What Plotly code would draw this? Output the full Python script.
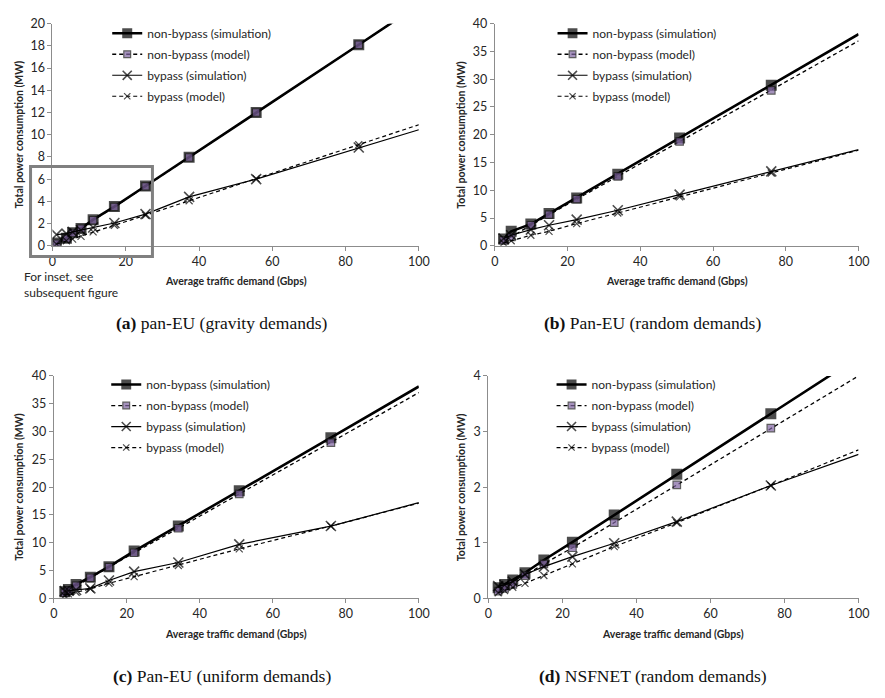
import plotly.graph_objects as go

# ---------------- data ----------------
series_names = ["non-bypass (simulation)", "non-bypass (model)",
                "bypass (simulation)", "bypass (model)"]

# (a) pan-EU (gravity demands)  -- last point is where the drawn line ends
a_x      = [1.1, 3.8, 5.5, 7.8, 11.1, 16.9, 25.4, 37.3, 55.6, 83.6, 100]
a_nb_sim = [0.25, 0.68, 1.18, 1.56, 2.35, 3.53, 5.38, 7.97, 12.0, 18.1, 21.7]
a_nb_mod = [0.2, 0.65, 1.15, 1.55, 2.3, 3.5, 5.35, 7.95, 12.0, 18.1, 21.7]
a_by_sim = [1.0, 1.1, 1.25, 1.4, 1.65, 2.05, 2.85, 4.4, 6.0, 8.85, 10.45]
a_by_mod = [0.15, 0.45, 0.6, 0.85, 1.25, 1.85, 2.75, 4.05, 6.05, 9.1, 10.9]

# (b) Pan-EU (random demands)
b_x      = [2.4, 4.5, 9.9, 14.9, 22.5, 33.8, 50.8, 76.0, 100]
b_nb_sim = [1.2, 2.6, 3.9, 5.8, 8.6, 12.9, 19.4, 28.9, 38.1]
b_nb_mod = [1.0, 1.6, 3.7, 5.6, 8.4, 12.5, 18.8, 28.0, 36.9]
b_by_sim = [1.3, 1.9, 2.9, 3.7, 4.7, 6.4, 9.2, 13.4, 17.3]
b_by_mod = [0.5, 0.9, 1.9, 2.6, 4.0, 5.9, 8.8, 13.1, 17.2]

# (c) Pan-EU (uniform demands)
c_x      = [3.0, 4.0, 6.1, 10.0, 15.1, 22.0, 34.1, 50.8, 75.9, 100]
c_nb_sim = [1.2, 1.6, 2.5, 3.8, 5.7, 8.5, 13.0, 19.35, 28.9, 38.1]
c_nb_mod = [1.0, 1.4, 2.3, 3.7, 5.6, 8.2, 12.6, 18.8, 28.0, 37.0]
c_by_sim = [1.3, 1.4, 1.5, 1.8, 3.2, 4.8, 6.45, 9.7, 13.0, 17.2]
c_by_mod = [0.5, 0.8, 1.1, 1.7, 2.7, 3.9, 5.9, 8.9, 13.0, 17.1]

# (d) NSFNET (random demands)
d_x      = [2.65, 4.4, 6.6, 9.9, 15.0, 22.7, 34.0, 50.9, 76.3, 100]
d_nb_sim = [0.19, 0.25, 0.33, 0.46, 0.69, 1.01, 1.50, 2.23, 3.32, 4.34]
d_nb_mod = [0.13, 0.18, 0.25, 0.41, 0.62, 0.91, 1.36, 2.04, 3.06, 4.0]
d_by_sim = [0.22, 0.24, 0.3, 0.43, 0.57, 0.75, 0.99, 1.38, 2.03, 2.59]
d_by_mod = [0.1, 0.14, 0.2, 0.27, 0.41, 0.62, 0.93, 1.36, 2.03, 2.67]

x_ticks = [0, 20, 40, 60, 80, 100]
y_ticks_a = [0, 2, 4, 6, 8, 10, 12, 14, 16, 18, 20]
y_ticks_bc = [0, 5, 10, 15, 20, 25, 30, 35, 40]
y_ticks_d = [0, 1, 2, 3, 4]

captions = [("(a)", "pan-EU (gravity demands)"),
            ("(b)", "Pan-EU (random demands)"),
            ("(c)", "Pan-EU (uniform demands)"),
            ("(d)", "NSFNET (random demands)")]
x_title = "Average traffic demand (Gbps)"
y_title = "Total power consumption (MW)"
inset_note = "For inset, see<br>subsequent figure"

# ---------------- layout helpers ----------------
W, H = 885, 698
def px(x): return x / W
def py(y): return 1 - y / H

PURPLE = "#8064A2"
AXIS = "#8c8c8c"
TXT = "#262626"
FONT = "Lato, 'Open Sans', sans-serif"

panels = [
    dict(x=a_x, ys=[a_nb_sim, a_nb_mod, a_by_sim, a_by_mod], yt=y_ticks_a,
         box=(49.3, 422, 16, 243)),
    dict(x=b_x, ys=[b_nb_sim, b_nb_mod, b_by_sim, b_by_mod], yt=y_ticks_bc,
         box=(499.3, 869.3, 16, 243)),
    dict(x=c_x, ys=[c_nb_sim, c_nb_mod, c_by_sim, c_by_mod], yt=y_ticks_bc,
         box=(50.7, 422, 376, 603.3)),
    dict(x=d_x, ys=[d_nb_sim, d_nb_mod, d_by_sim, d_by_mod], yt=y_ticks_d,
         box=(492.7, 869.3, 376, 603.3)),
]
legend_text_x = [144, 597, 143, 596]
legend_top_y = [33, 33, 392, 392]

styles = [
    dict(line=dict(color="black", width=2.6),
         marker=dict(symbol="square", color="black", size=11,
                     line=dict(color="black", width=0))),
    dict(line=dict(color="black", width=1.3, dash="4px,3px"),
         marker=dict(symbol="square", color=PURPLE, size=7.5,
                     line=dict(color="#1a1a1a", width=1.2))),
    dict(line=dict(color="black", width=1.2),
         marker=dict(symbol="x-thin-open", color="black", size=10,
                     line=dict(color="black", width=1.6))),
    dict(line=dict(color="black", width=1.2, dash="4px,3px"),
         marker=dict(symbol="x-thin-open", color="black", size=7,
                     line=dict(color="black", width=1.2))),
]

fig = go.Figure()
layout = dict(width=W, height=H, margin=dict(l=0, r=0, t=0, b=0),
              paper_bgcolor="white", plot_bgcolor="white",
              font=dict(family=FONT, color=TXT, size=12),
              annotations=[], shapes=[])

for i, p in enumerate(panels):
    n = i + 1
    xa = "x" if n == 1 else f"x{n}"
    ya = "y" if n == 1 else f"y{n}"
    lg = "legend" if n == 1 else f"legend{n}"
    x0, x1, y0, y1 = p["box"]
    for j, (name, yv, st) in enumerate(zip(series_names, p["ys"], styles)):
        base = st["marker"]["size"]
        sizes = [base] * (len(p["x"]) - 1) + [0]
        mk = dict(st["marker"])
        mk["size"] = sizes
        fig.add_trace(go.Scatter(
            x=p["x"], y=yv, name=name, mode="lines+markers",
            line=st["line"], marker=mk, xaxis=xa, yaxis=ya, legend=lg,
            legendgroup=f"p{n}s{j}", showlegend=True))
    axk = "xaxis" if n == 1 else f"xaxis{n}"
    ayk = "yaxis" if n == 1 else f"yaxis{n}"
    layout[axk] = dict(domain=[px(x0), px(x1)], range=[0, 100], tickvals=x_ticks,
                       anchor=ya, showgrid=False, zeroline=False, showline=True,
                       linecolor=AXIS, linewidth=1, ticks="outside", ticklen=4,
                       tickcolor=AXIS, tickfont=dict(size=12.5, color=TXT, family=FONT))
    layout[ayk] = dict(domain=[py(y1), py(y0)], range=[p["yt"][0], p["yt"][-1]],
                       tickvals=p["yt"], anchor=xa, showgrid=False, zeroline=False,
                       showline=True, linecolor=AXIS, linewidth=1, ticks="outside",
                       ticklen=4, tickcolor=AXIS,
                       tickfont=dict(size=12.5, color=TXT, family=FONT))
    layout[lg] = dict(x=px(legend_text_x[i] - 39), y=py(legend_top_y[i] - 22),
                      xanchor="left", yanchor="top", bgcolor="rgba(0,0,0,0)",
                      font=dict(size=12, color=TXT, family=FONT),
                      tracegroupgap=2, traceorder="grouped", itemwidth=30)
    # axis titles
    layout["annotations"].append(dict(
        text=f"<b>{y_title}</b>", xref="paper", yref="paper",
        x=px(15 if n in (1, 3) else 465), y=py((y0 + y1) / 2), textangle=-90,
        xanchor="center", yanchor="middle",
        showarrow=False, font=dict(size=10.5, color=TXT, family=FONT)))
    layout["annotations"].append(dict(
        text=f"<b>{x_title}</b>", xref="paper", yref="paper",
        x=px((x0 + x1) / 2), y=py(278.5 if n <= 2 else 640), showarrow=False,
        xanchor="center", yanchor="middle",
        font=dict(size=10.5, color=TXT, family=FONT)))
    # caption
    tag, cap = captions[i]
    layout["annotations"].append(dict(
        text=f"<b>{tag}</b> {cap}", xref="paper", yref="paper",
        x=px(222 if n in (1, 3) else 660), y=py(322 if n <= 2 else 683),
        xanchor="center", yanchor="middle", showarrow=False,
        font=dict(size=17.5, color="#111", family="'Liberation Serif', serif")))

layout["annotations"].append(dict(
    text=inset_note, xref="paper", yref="paper", x=px(18), y=py(283),
    xanchor="left", yanchor="middle", align="left", showarrow=False,
    font=dict(size=12, color=TXT, family=FONT)))
layout["shapes"].append(dict(
    type="rect", xref="paper", yref="paper",
    x0=px(27), x1=px(151), y0=py(254), y1=py(162),
    line=dict(color="#808080", width=3), layer="above"))

fig.update_layout(**layout)
fig.write_html("out.html", config={"displayModeBar": False},
               post_script="document.body.style.margin='0';"
                           "document.body.style.overflow='hidden';")
